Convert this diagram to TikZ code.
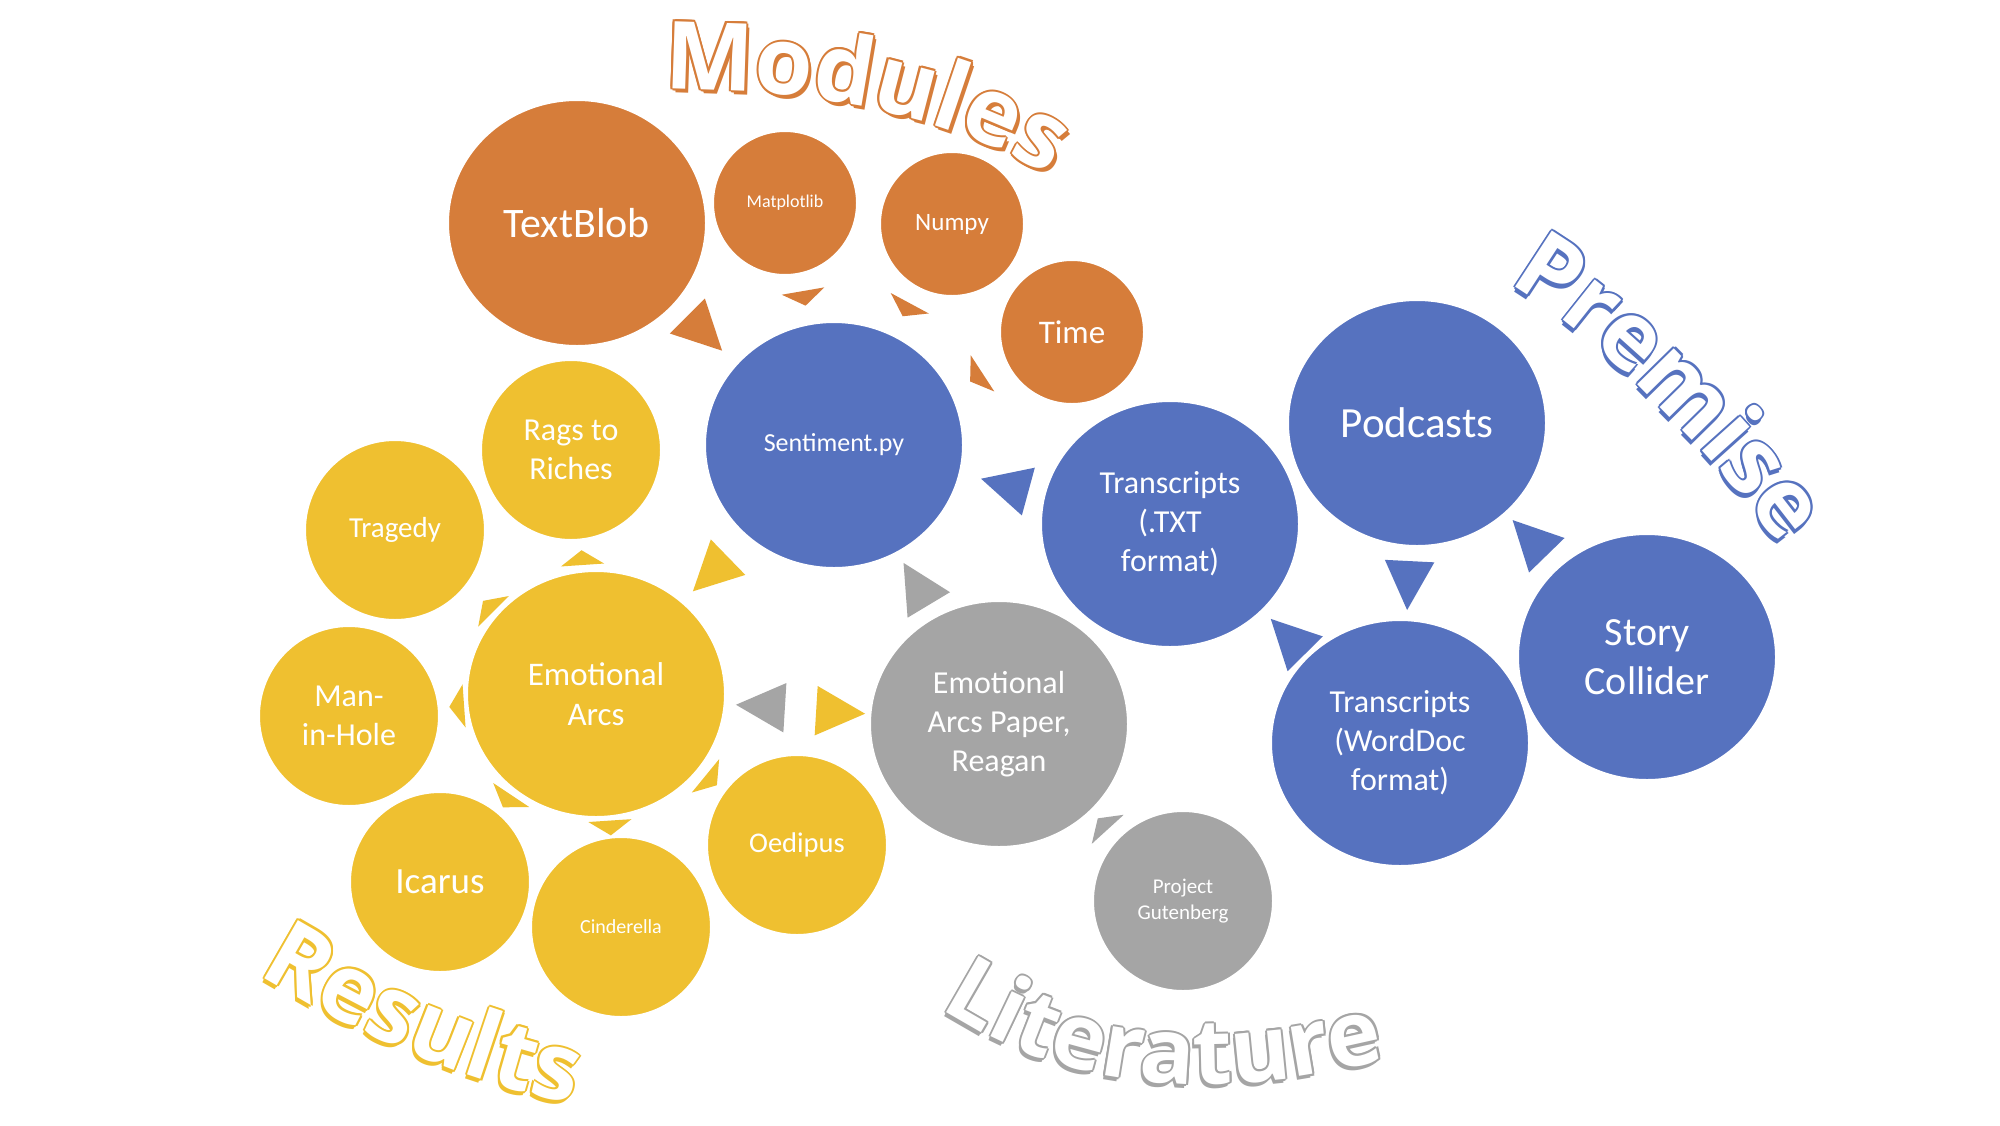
\documentclass[tikz,border=0pt]{standalone}
\usepackage{fontspec}
\setmainfont{Carlito}
\newfontfamily\artfont{Open Sans}
\usetikzlibrary{shapes.geometric,decorations.text,calc,backgrounds}

\definecolor{modc}{RGB}{214,125,58}
\definecolor{bluec}{RGB}{86,114,191}
\definecolor{yelc}{RGB}{239,192,48}
\definecolor{grayc}{RGB}{165,165,165}

\newcommand\fsz[1]{\fontsize{#1}{\fpeval{1.22*#1}}\selectfont}
\newcommand\artsize{\artfont\bfseries\fontsize{94}{94}\selectfont}
\newcommand\artsmall{\artfont\bfseries\fontsize{91}{91}\selectfont}

% outlined title along a path: colour, shadow offsets, text options, path
\newcommand\artword[4]{%
  \foreach \dx/\dy in {#2,-2/0,2/0,0/2,0/-2,-1.4/-1.4,-1.4/1.4,1.4/-1.4,1.4/1.4}
    \path[shift={(\dx,\dy)},decorate,decoration={text along path,text color=#1,#3}] #4;
  \path[decorate,decoration={text along path,text color=white,#3}] #4;
}

\tikzset{
  big/.style={ellipse,minimum width=258,minimum height=246,inner sep=0,draw=white,line width=2,text=white,align=center},
  mid/.style={circle,minimum size=180,inner sep=0,draw=white,line width=2,text=white,align=center},
  small/.style={circle,minimum size=144,inner sep=0,draw=white,line width=2,text=white,align=center},
  pics/bigtri/.style={code={\fill[fill=#1] (-24.5,24.75) -- (24.5,0) -- (-24.5,-24.75) -- cycle;}},
  pics/smalltri/.style={code={\fill[fill=#1] (-7.4,21.6) -- (7.4,0) -- (-7.4,-21.6) -- cycle;}}
}

\begin{document}
\begin{tikzpicture}[x=1pt,y=1pt]
\useasboundingbox (0,0) rectangle (2000,-1125);

% modules
\begin{scope}[every node/.append style={fill=modc}]
  \node[big,font=\fsz{42}] (blob) at (577,-223) {TextBlob};
  \node[small,font=\fsz{18}] (matp) at (785,-203) {Matplotlib};
  \node[small,font=\fsz{25}] (numpy) at (952,-224) {Numpy};
  \node[small,font=\fsz{33}] (time) at (1072,-332) {Time};
\end{scope}

% premise
\begin{scope}[every node/.append style={fill=bluec}]
  \node[big,font=\fsz{26}] (sent) at (834,-445) {Sentiment.py};
  \node[big,font=\fsz{32}] (txt) at (1170,-524) {Transcripts\\(.TXT\\format)};
  \node[big,font=\fsz{43}] (pod) at (1417,-423) {Podcasts};
  \node[big,font=\fsz{40}] (story) at (1647,-657) {Story\\Collider};
  \node[big,font=\fsz{32}] (word) at (1400,-743) {Transcripts\\(WordDoc\\format)};
\end{scope}

% literature
\begin{scope}[every node/.append style={fill=grayc}]
  \node[big,font=\fsz{32}] (paper) at (999,-724) {Emotional\\Arcs Paper,\\Reagan};
  \node[mid,font=\fsz{21}] (guten) at (1183,-901) {Project\\Gutenberg};
\end{scope}

% results
\begin{scope}[every node/.append style={fill=yelc}]
  \node[big,font=\fsz{33}] (arcs) at (596,-694) {Emotional\\Arcs};
  \node[mid,font=\fsz{32}] (rags) at (571,-450) {Rags to\\Riches};
  \node[mid,font=\fsz{29}] (trag) at (395,-530) {Tragedy};
  \node[mid,font=\fsz{32}] (hole) at (349,-716) {Man-\\in-Hole};
  \node[mid,font=\fsz{37}] (icar) at (440,-882) {Icarus};
  \node[mid,font=\fsz{20}] (cind) at (621,-927) {Cinderella};
  \node[mid,font=\fsz{28.5}] (oedi) at (797,-845) {Oedipus};
\end{scope}

\begin{scope}[on background layer]
  \fill[white] (0,0) rectangle (2000,-1125);
  \foreach \src/\dst/\frc/\ang/\col in {blob/sent/.497/-45/modc, txt/sent/.492/164.8/bluec,
      pod/word/.508/-92.9/bluec, story/pod/.51/134.2/bluec, word/txt/.487/134.6/bluec,
      paper/sent/.502/121/grayc, sent/arcs/.519/-135.8/yelc, paper/arcs/.592/176.5/grayc,
      arcs/paper/.607/-3.5/yelc}
    \pic[rotate=\ang] at ($(\src)!\frc!(\dst)$) {bigtri=\col};
  \foreach \src/\dst/\frc/\ang/\col in {matp/sent/.394/-80.2/modc, numpy/sent/.388/-118.3/modc,
      time/sent/.402/-146.9/modc, guten/paper/.436/132.3/grayc, arcs/rags/.559/93.9/yelc,
      arcs/trag/.536/135/yelc, arcs/hole/.564/-176/yelc, arcs/icar/.57/-123.7/yelc,
      arcs/cind/.575/-86.2/yelc, arcs/oedi/.573/-39.3/yelc}
    \pic[rotate=\ang] at ($(\src)!\frc!(\dst)$) {smalltri=\col};
\end{scope}

% titles
\artword{modc}{3/-4,1.5/-2}{text={|\artsize|Modules},text align=left}
  {(664,-89) .. controls (815,-90) and (955,-108) .. (1095,-205)}
\artword{bluec}{-1/-5,-0.5/-2.5}{text={|\artsize|Premise},text align=left}
  {(1508,-284) .. controls (1605,-336) and (1740,-484) .. (1797,-570)}
\artword{yelc}{-2/-4,-1/-2}{text={|\artsize|Results},text align=left}
  {(258,-974) .. controls (360,-1035) and (470,-1090) .. (620,-1112)}
\artword{grayc}{-2/-4,-1/-2}{text={|\artsmall|Literature},text align=left}
  {(940,-1008) .. controls (1060,-1085) and (1200,-1112) .. (1420,-1050)}
\end{tikzpicture}
\end{document}
